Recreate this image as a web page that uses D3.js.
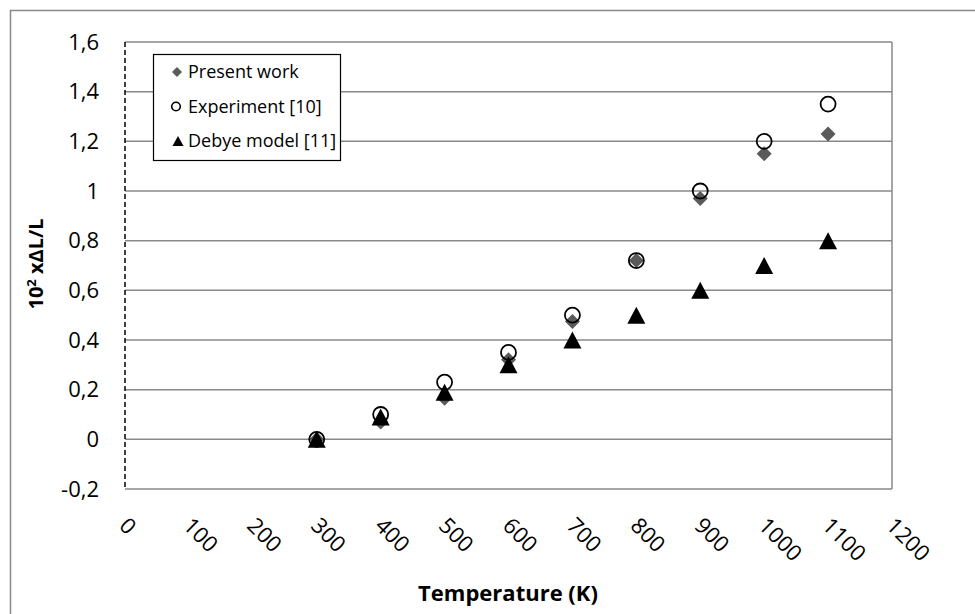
<!DOCTYPE html>
<html><head><meta charset="utf-8">
<script src="https://cdn.jsdelivr.net/npm/d3@7/dist/d3.min.js"></script>
<style>body{margin:0;background:#fff}svg{display:block}text{font-family:"Open Sans",sans-serif}</style>
</head><body>
<svg id="c" width="975" height="614"></svg>
<script>
const temperatures = [300, 400, 500, 600, 700, 800, 900, 1000, 1100];
const presentWork = [0, 0.07, 0.165, 0.32, 0.475, 0.72, 0.97, 1.15, 1.23];
const experiment = [0, 0.1, 0.23, 0.35, 0.5, 0.72, 1.0, 1.2, 1.35];
const debye = [0, 0.09, 0.19, 0.3, 0.4, 0.5, 0.6, 0.7, 0.8];
const xTicks = [0, 100, 200, 300, 400, 500, 600, 700, 800, 900, 1000, 1100, 1200];
const yTicks = [-0.2, 0, 0.2, 0.4, 0.6, 0.8, 1, 1.2, 1.4, 1.6];
const seriesNames = ["Present work", "Experiment [10]", "Debye model [11]"];

const svg = d3.select("#c");
const L = 125, R = 892, T = 42, B = 489;
const x = d3.scaleLinear().domain([0, 1200]).range([L, R]);
const y = d3.scaleLinear().domain([-0.2, 1.6]).range([B, T]);
const grid = "#888888";
const fmt = v => String(+v.toFixed(1)).replace(".", ",");

// outer chart border
svg.append("path").attr("d", `M10.5,614 V10.5 H975`).attr("fill", "none").attr("stroke", "#898989").attr("stroke-width", 1.5);

// gridlines
svg.append("g").selectAll("line").data(yTicks.filter(v => v > -0.1)).join("line")
  .attr("x1", L).attr("x2", R).attr("y1", d => y(d)).attr("y2", d => y(d))
  .attr("stroke", grid).attr("stroke-width", 1.5);
// bottom & right border
svg.append("line").attr("x1", L).attr("x2", R).attr("y1", y(-0.2)).attr("y2", y(-0.2)).attr("stroke", grid).attr("stroke-width", 1.5);
svg.append("line").attr("x1", R).attr("x2", R).attr("y1", T).attr("y2", B).attr("stroke", grid).attr("stroke-width", 1.5);
// left dashed axis
svg.append("line").attr("x1", L).attr("x2", L).attr("y1", T).attr("y2", B + 0.5)
  .attr("stroke", "#000").attr("stroke-width", 1.5).attr("stroke-dasharray", "5,3");

// y tick labels
svg.append("g").selectAll("text").data(yTicks).join("text")
  .attr("x", 99).attr("y", d => y(d)).attr("dy", "0.35em").attr("text-anchor", "end")
  .attr("font-size", 22).attr("fill", "#000").text(fmt);

// x tick labels rotated
svg.append("g").selectAll("text").data(xTicks).join("text")
  .attr("transform", d => `translate(${x(d) - 7},${527}) rotate(45)`)
  .attr("font-size", 22).attr("fill", "#000").text(d => d);

// axis titles
svg.append("text").attr("x", 508).attr("y", 601).attr("text-anchor", "middle")
  .attr("font-size", 22).attr("font-weight", "bold").text("Temperature (K)");
const yt = svg.append("text").attr("transform", "translate(43,264) rotate(-90)").attr("text-anchor", "middle")
  .attr("font-size", 20).attr("font-weight", "bold");
yt.append("tspan").text("10");
yt.append("tspan").attr("font-size", 13).attr("dy", -7).text("2");
yt.append("tspan").attr("dy", 7).text(" x\u0394L/L");

// marker shapes
const diamond = (cx, cy, r) => `M${cx},${cy - r}L${cx + r},${cy}L${cx},${cy + r}L${cx - r},${cy}Z`;
const triangle = (cx, cy, w, h) => `M${cx},${cy - h / 2}L${cx + w / 2},${cy + h / 2}L${cx - w / 2},${cy + h / 2}Z`;

const pts = temperatures.map((t, i) => ({ t, p: presentWork[i], e: experiment[i], d: debye[i] }));
svg.append("g").selectAll("path").data(pts).join("path")
  .attr("d", d => diamond(x(d.t), y(d.p), 7.5)).attr("fill", "#5a5a5a");
svg.append("g").selectAll("circle").data(pts).join("circle")
  .attr("cx", d => x(d.t)).attr("cy", d => y(d.e)).attr("r", 7.5)
  .attr("fill", "none").attr("stroke", "#000").attr("stroke-width", 1.8);
svg.append("g").selectAll("path").data(pts).join("path")
  .attr("d", d => triangle(x(d.t), y(d.d), 18, 17)).attr("fill", "#000");

// legend
const lg = svg.append("g");
lg.append("rect").attr("x", 153.5).attr("y", 54.5).attr("width", 187).attr("height", 106)
  .attr("fill", "#fff").attr("stroke", "#000").attr("stroke-width", 1.2);
const rows = [72, 106.5, 141];
lg.append("path").attr("d", diamond(177, rows[0], 5)).attr("fill", "#5a5a5a");
lg.append("circle").attr("cx", 176).attr("cy", rows[1]).attr("r", 4.3).attr("fill", "none").attr("stroke", "#000").attr("stroke-width", 1.6);
lg.append("path").attr("d", triangle(178, rows[2], 11, 10)).attr("fill", "#000");
lg.selectAll("text").data(seriesNames).join("text")
  .attr("x", 188).attr("y", (d, i) => rows[i]).attr("dy", "0.35em")
  .attr("font-size", 18).attr("fill", "#000").text(d => d);
</script>
</body></html>
